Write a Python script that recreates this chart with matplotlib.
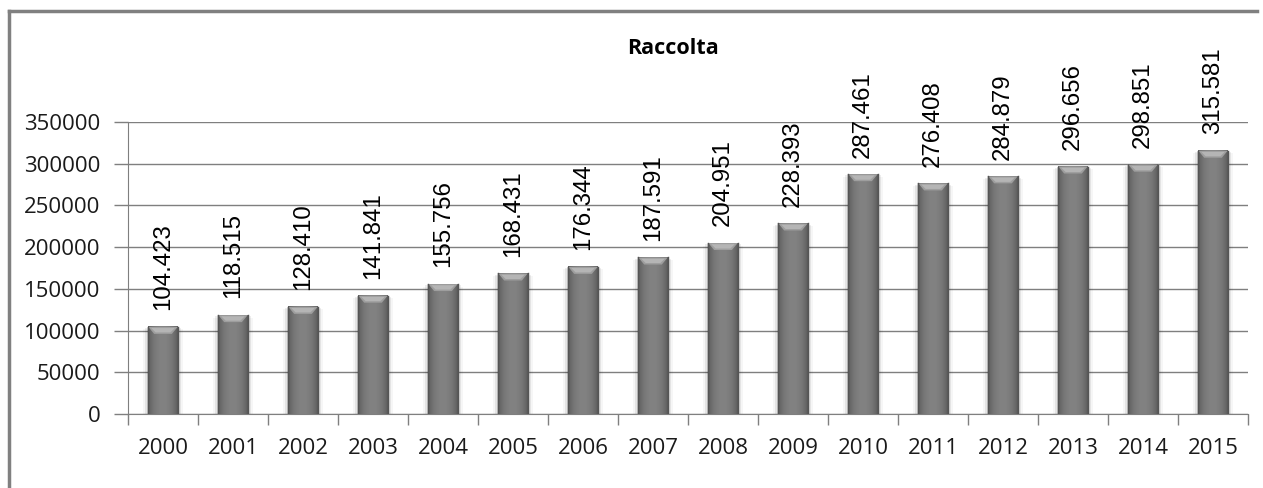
import numpy as np
import matplotlib.pyplot as plt
from matplotlib.patches import Polygon
from matplotlib.lines import Line2D

years = ["2000", "2001", "2002", "2003", "2004", "2005", "2006", "2007",
         "2008", "2009", "2010", "2011", "2012", "2013", "2014", "2015"]
raccolta = [104423, 118515, 128410, 141841, 155756, 168431, 176344, 187591,
            204951, 228393, 287461, 276408, 284879, 296656, 298851, 315581]
value_labels = ["104.423", "118.515", "128.410", "141.841", "155.756", "168.431",
                "176.344", "187.591", "204.951", "228.393", "287.461", "276.408",
                "284.879", "296.656", "298.851", "315.581"]
yticks = [0, 50000, 100000, 150000, 200000, 250000, 300000, 350000]

W, H = 1263, 488
fig = plt.figure(figsize=(W / 100, H / 100), dpi=100)
ax = fig.add_axes([128 / W, 1 - 414 / H, (1248 - 128) / W, (414 - 122) / H])

x = np.arange(len(years))
bw = 0.42
bars = ax.bar(x, raccolta, width=bw, color="#777777", zorder=3)

# cylinder-like shading: horizontal gradient dark - light - dark
t = np.linspace(0, 1, 64)
shade = 0.34 + 0.17 * np.sin(np.pi * t) ** 0.6
grad = np.tile(shade, (2, 1))
cap_h = 3500.0
for b in bars:
    x0, w, h = b.get_x(), b.get_width(), b.get_height()
    # soft shadow around the bar
    for k, a in enumerate([0.12, 0.07, 0.035]):
        pad = 0.025 * (k + 1)
        ax.fill_between([x0 - pad, x0 + w + pad], 0, h - 1500 * k,
                        color="#000000", alpha=a, lw=0, zorder=2)
    ax.imshow(grad, extent=(x0, x0 + w, 0, h), aspect="auto", cmap="gray",
              vmin=0, vmax=1, zorder=4, interpolation="bicubic")
    # light bevel on top
    cap = Polygon([(x0, h), (x0 + w, h), (x0 + w * 0.8, h - 2.4 * cap_h),
                   (x0 + w * 0.2, h - 2.4 * cap_h)], closed=True,
                  facecolor="#9e9e9e", edgecolor="none", zorder=5)
    ax.add_patch(cap)
    cap2 = Polygon([(x0 + w * 0.1, h - 0.4 * cap_h), (x0 + w * 0.9, h - 0.4 * cap_h),
                    (x0 + w * 0.75, h - 1.9 * cap_h), (x0 + w * 0.25, h - 1.9 * cap_h)],
                   closed=True, facecolor="#b5b5b5", edgecolor="none", zorder=6)
    ax.add_patch(cap2)
    ax.plot([x0, x0], [0, h], color="#555555", lw=1, zorder=6)
    ax.plot([x0 + w, x0 + w], [0, h], color="#555555", lw=1, zorder=6)

for xi, v, lab in zip(x, raccolta, value_labels):
    ax.annotate(lab, xy=(xi, v), xytext=(0, 12), textcoords="offset points",
                rotation=90, ha="center", va="bottom", fontsize=17.3,
                family="Liberation Sans", color="#000000", zorder=7)

ax.set_xlim(-0.5, len(years) - 0.5)
ax.set_ylim(0, 350000)
ax.set_yticks(yticks)
ax.set_yticklabels([str(v) for v in yticks], fontsize=16, family="Open Sans",
                   color="#1a1a1a")
ax.yaxis.grid(True, color="#7f7f7f", lw=1, zorder=1)
ax.tick_params(axis="y", length=10, width=1, color="#7f7f7f", pad=10)
ax.set_xticks(x)
ax.set_xticklabels(years, fontsize=16, family="Open Sans", color="#1a1a1a")
ax.tick_params(axis="x", length=0, pad=17)
ax.set_xticks(np.arange(-0.5, len(years)), minor=True)
ax.tick_params(axis="x", which="minor", length=8, width=1, color="#7f7f7f")

for s in ["top", "right"]:
    ax.spines[s].set_visible(False)
ax.spines["left"].set_color("#7f7f7f")
ax.spines["bottom"].set_color("#7f7f7f")

fig.text(673 / W, 1 - 48 / H, "Raccolta", ha="center", va="center",
         fontsize=15.5, fontweight="bold", family="Open Sans")

# outer chart border (left and top only visible)
fig.add_artist(Line2D([9 / W, 9 / W], [0, 1 - 11 / H], color="#808080", lw=2.5,
                      transform=fig.transFigure))
fig.add_artist(Line2D([9 / W, 1257 / W], [1 - 11 / H, 1 - 11 / H], color="#808080",
                      lw=2.5, transform=fig.transFigure))

fig.savefig("out.png", dpi=100)
